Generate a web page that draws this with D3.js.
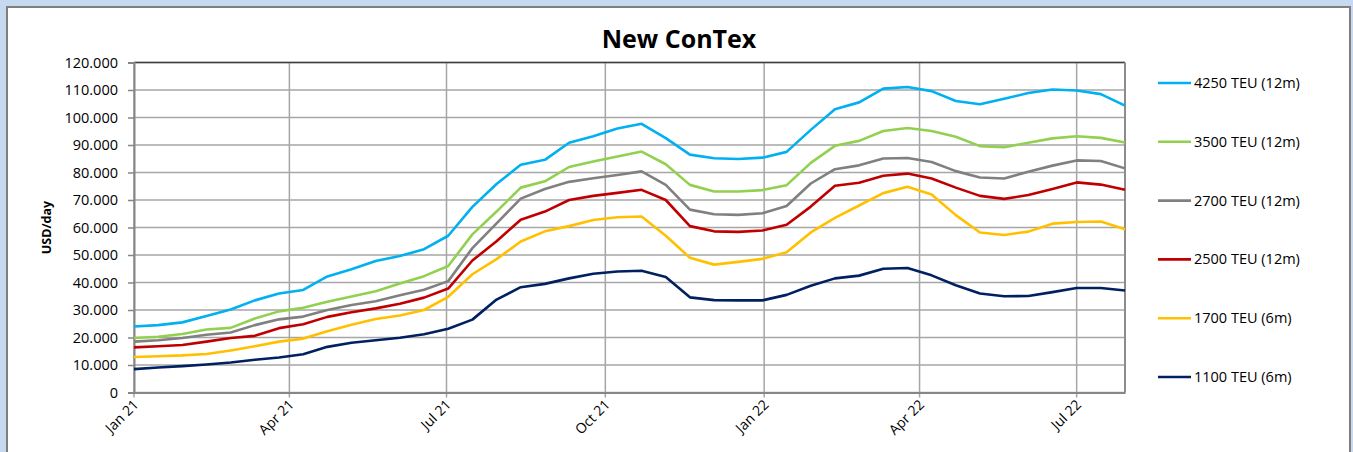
<!DOCTYPE html>
<html>
<head>
<meta charset="utf-8">
<script src="https://cdn.jsdelivr.net/npm/d3@7"></script>
<style>
  body { margin: 0; background: #c6d9f1; }
  svg { display: block; }
  text { font-family: "Open Sans", sans-serif; fill: #000; }
</style>
</head>
<body>
<div id="chart"></div>
<script>
// fortnightly readings, USD/day (thousands)
const dates = [
  "2021-01-01","2021-01-15","2021-01-29","2021-02-12","2021-02-26","2021-03-12","2021-03-26",
  "2021-04-09","2021-04-23","2021-05-07","2021-05-21","2021-06-04","2021-06-18","2021-07-02",
  "2021-07-16","2021-07-30","2021-08-13","2021-08-27","2021-09-10","2021-09-24","2021-10-08",
  "2021-10-22","2021-11-05","2021-11-19","2021-12-03","2021-12-17","2021-12-31","2022-01-14",
  "2022-01-28","2022-02-11","2022-02-25","2022-03-11","2022-03-25","2022-04-08","2022-04-22",
  "2022-05-06","2022-05-20","2022-06-03","2022-06-17","2022-07-01","2022-07-15","2022-07-29"
];

const teu4250 = [24.0,24.5,25.5,27.8,30.2,33.5,36.0,37.3,42.2,44.8,47.8,49.6,52.1,57.0,67.5,75.8,82.8,84.6,90.8,93.2,96.0,97.7,92.5,86.5,85.2,84.9,85.4,87.5,95.5,103.0,105.5,110.5,111.1,109.6,106.0,104.8,106.8,108.9,110.2,109.8,108.5,104.3];
const teu3500 = [19.8,20.3,21.3,22.9,23.5,26.9,29.5,30.8,33.0,34.9,36.8,39.6,42.3,46.0,57.5,65.8,74.5,76.8,82.0,84.0,85.8,87.6,83.0,75.5,73.1,73.1,73.6,75.4,83.5,89.7,91.5,95.1,96.2,95.1,93.0,89.6,89.2,90.8,92.4,93.2,92.6,90.9];
const teu2700 = [18.5,19.0,19.8,21.0,21.8,24.5,26.6,27.6,30.0,31.8,33.2,35.4,37.4,40.5,52.5,61.5,70.5,74.0,76.6,77.9,79.1,80.4,75.5,66.5,64.8,64.6,65.2,67.8,76.0,81.2,82.6,85.1,85.3,83.8,80.5,78.2,77.8,80.3,82.5,84.4,84.2,81.5];
const teu2500 = [16.4,16.8,17.3,18.5,19.8,20.6,23.4,24.8,27.5,29.2,30.6,32.3,34.5,37.8,48.0,55.0,62.8,65.8,70.0,71.5,72.6,73.7,70.0,60.5,58.6,58.4,58.9,61.0,67.6,75.2,76.3,78.8,79.6,77.8,74.5,71.5,70.4,71.8,74.0,76.4,75.6,73.7];
const teu1700 = [12.9,13.2,13.5,14.0,15.3,16.8,18.5,19.6,22.3,24.6,26.7,28.0,30.0,34.8,43.0,48.5,54.9,58.6,60.5,62.7,63.7,64.0,57.0,49.0,46.5,47.5,48.6,51.0,58.2,63.5,68.0,72.5,74.8,72.0,64.5,58.2,57.3,58.5,61.4,62.0,62.2,59.4];
const teu1100 = [8.5,9.1,9.6,10.2,10.9,11.9,12.7,13.9,16.6,18.1,19.0,19.9,21.2,23.2,26.5,33.8,38.3,39.5,41.5,43.2,44.0,44.3,42.0,34.6,33.6,33.5,33.5,35.5,38.8,41.5,42.5,45.0,45.3,42.6,39.0,36.0,35.0,35.1,36.5,38.0,38.0,37.1];

const seriesNames = ["4250 TEU (12m)","3500 TEU (12m)","2700 TEU (12m)","2500 TEU (12m)","1700 TEU (6m)","1100 TEU (6m)"];
const seriesValues = [teu4250, teu3500, teu2700, teu2500, teu1700, teu1100];
const colors = ["#00b0f0","#92d050","#808080","#c00000","#ffc000","#002060"];
const yTicks = [0,10,20,30,40,50,60,70,80,90,100,110,120];

const W = 1353, H = 452;
const margin = { top: 62.5, right: 228, bottom: 59.5, left: 134 };

const svg = d3.select("#chart").append("svg")
  .attr("width", W).attr("height", H);

// white panel
svg.append("rect")
  .attr("x", 7).attr("y", 7)
  .attr("width", 1343).attr("height", 460)
  .attr("fill", "#fff")
  .attr("stroke", "#7f7f7f").attr("stroke-width", 2);

const parse = d3.timeParse("%Y-%m-%d");
const xDates = dates.map(parse);

const x = d3.scaleTime()
  .domain([xDates[0], xDates[xDates.length - 1]])
  .range([margin.left, W - margin.right]);
const y = d3.scaleLinear()
  .domain([0, 120])
  .range([H - margin.bottom, margin.top]);

// horizontal grid
svg.append("g")
  .selectAll("line")
  .data(yTicks)
  .join("line")
  .attr("x1", margin.left).attr("x2", W - margin.right)
  .attr("y1", d => y(d)).attr("y2", d => y(d))
  .attr("stroke", "#a6a6a6").attr("stroke-width", 1.5);

// vertical grid at quarter starts
const xTicks = d3.timeMonth.every(3).range(xDates[0], xDates[xDates.length - 1]);
svg.append("g")
  .selectAll("line")
  .data(xTicks)
  .join("line")
  .attr("x1", d => x(d)).attr("x2", d => x(d))
  .attr("y1", margin.top).attr("y2", H - margin.bottom + 5)
  .attr("stroke", "#a6a6a6").attr("stroke-width", 1.5);

// plot frame
svg.append("line")
  .attr("x1", margin.left).attr("x2", W - margin.right)
  .attr("y1", margin.top).attr("y2", margin.top)
  .attr("stroke", "#404040").attr("stroke-width", 1.5);
svg.append("line")
  .attr("x1", W - margin.right).attr("x2", W - margin.right)
  .attr("y1", margin.top).attr("y2", H - margin.bottom)
  .attr("stroke", "#8c8c8c").attr("stroke-width", 2);

// y axis
const yAxis = svg.append("g")
  .attr("transform", `translate(${margin.left},0)`)
  .call(d3.axisLeft(y).tickValues(yTicks).tickSize(6).tickPadding(10)
    .tickFormat(d => d === 0 ? "0" : d + ".000"));
yAxis.select(".domain").attr("stroke", "#868686").attr("stroke-width", 2);
yAxis.selectAll(".tick line").attr("stroke", "#868686").attr("stroke-width", 1.5);
yAxis.selectAll(".tick text").style("font-size", "14.5px").attr("fill", "#000");

// x axis
const xAxis = svg.append("g")
  .attr("transform", `translate(0,${H - margin.bottom})`)
  .call(d3.axisBottom(x).tickValues(xTicks).tickSize(0).tickFormat(d3.timeFormat("%b %y")));
xAxis.select(".domain").attr("stroke", "#868686").attr("stroke-width", 2);
xAxis.selectAll(".tick text")
  .style("font-size", "14px")
  .attr("fill", "#000")
  .attr("text-anchor", "end")
  .attr("dy", null).attr("y", 0)
  .attr("transform", "translate(5,13) rotate(-45)");

// y label
svg.append("text")
  .attr("transform", `translate(51,${(margin.top + H - margin.bottom) / 2}) rotate(-90)`)
  .attr("text-anchor", "middle")
  .style("font-size", "12.5px").style("font-weight", "bold")
  .text("USD/day");

// title
svg.append("text")
  .attr("x", 679).attr("y", 48)
  .attr("text-anchor", "middle")
  .style("font-size", "25px").style("font-weight", "bold")
  .text("New ConTex");

// lines
const line = d3.line()
  .x((d, i) => x(xDates[i]))
  .y(d => y(d));

svg.append("g")
  .selectAll("path")
  .data(seriesValues)
  .join("path")
  .attr("d", d => line(d))
  .attr("fill", "none")
  .attr("stroke", (d, i) => colors[i])
  .attr("stroke-width", 2.6)
  .attr("stroke-linejoin", "round");

// legend
const legend = svg.append("g")
  .selectAll("g")
  .data(seriesNames)
  .join("g")
  .attr("transform", (d, i) => `translate(1158,${83 + i * 58.8})`);
legend.append("line")
  .attr("x1", 0).attr("x2", 33)
  .attr("stroke", (d, i) => colors[i]).attr("stroke-width", 2.6);
legend.append("text")
  .attr("x", 36).attr("dy", "0.35em")
  .style("font-size", "14.5px")
  .text(d => d);
</script>
</body>
</html>
